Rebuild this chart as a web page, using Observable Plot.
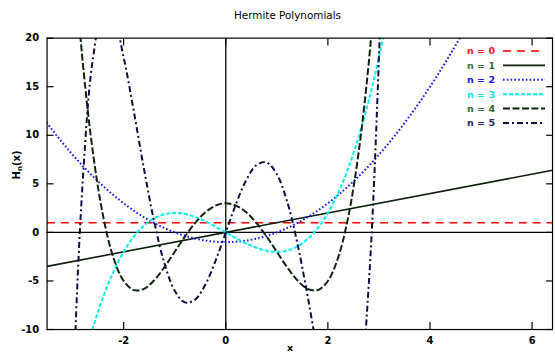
<!DOCTYPE html>
<html><head><meta charset="utf-8">
<script src="https://cdn.jsdelivr.net/npm/d3@7"></script>
<script src="https://cdn.jsdelivr.net/npm/@observablehq/plot@0.6"></script>
<style>
html,body{margin:0;padding:0;background:#fff;overflow:hidden;}
#wrap{position:relative;width:555px;height:356px;overflow:hidden;font-family:"DejaVu Sans",sans-serif;}
#chart{position:absolute;left:0;top:0;}
#title{position:absolute;left:0;width:575px;top:9px;text-align:center;font-size:10.4px;color:#000;white-space:nowrap;}
#ylab{position:absolute;left:17px;top:165px;transform:translate(-50%,-50%) rotate(-90deg);font-size:10px;font-weight:bold;white-space:nowrap;}
#ylab sub{font-size:7px;vertical-align:-2px;}
#xlab{position:absolute;left:270px;width:40px;top:342px;line-height:11px;text-align:center;font-size:9.5px;font-weight:bold;}
#legend{position:absolute;left:0;top:0;}
</style></head>
<body>
<div id="wrap">
  <div id="chart"></div>
  <div id="title"></div>
  <div id="ylab">H<sub>n</sub>(x)</div>
  <div id="xlab">x</div>
  <svg id="legend" width="555" height="140"></svg>
</div>
<script>
const title = "Hermite Polynomials";
const seriesNames = ["n = 0", "n = 1", "n = 2", "n = 3", "n = 4", "n = 5"];
const xTicks = [-2, 0, 2, 4, 6];
const yTicks = [-10, -5, 0, 5, 10, 15, 20];

// straight series (n = 0, n = 1) read at the two plot edges
const lineX = [-3.5, 6.4];
const h0 = [1, 1];
const h1 = [-3.5, 6.4];

// curved series read on a common x grid (null = outside the plotted window)
const xGrid = [-3.6, -3.4, -3.2, -3.0, -2.8, -2.6, -2.4, -2.2, -2.0, -1.8, -1.6, -1.4, -1.2, -1.0, -0.8, -0.6, -0.4, -0.2, 0,
  0.2, 0.4, 0.6, 0.8, 1.0, 1.2, 1.4, 1.6, 1.8, 2.0, 2.2, 2.4, 2.6, 2.8, 3.0, 3.2, 3.4, 3.6, 3.8, 4.0, 4.2, 4.4, 4.6, 4.8];
const h2 = [11.96, 10.56, 9.24, 8, 6.84, 5.76, 4.76, 3.84, 3, 2.24, 1.56, 0.96, 0.44, 0, -0.36, -0.64, -0.84, -0.96, -1,
  -0.96, -0.84, -0.64, -0.36, 0, 0.44, 0.96, 1.56, 2.24, 3, 3.84, 4.76, 5.76, 6.84, 8, 9.24, 10.56, 11.96, 13.44, 15, 16.64, 18.36, 20.16, 22.04];
const h3 = [null, null, null, null, -13.55, -9.78, -6.62, -4.05, -2, -0.43, 0.7, 1.46, 1.87, 2, 1.89, 1.58, 1.14, 0.59, 0,
  -0.59, -1.14, -1.58, -1.89, -2, -1.87, -1.46, -0.7, 0.43, 2, 4.05, 6.62, 9.78, 13.55, 18, 23.17, null, null, null, null, null, null, null, null];
const h4 = [null, null, null, 30, 17.43, 8.14, 1.62, -2.61, -5, -5.94, -5.81, -4.92, -3.57, -2, -0.43, 0.97, 2.07, 2.76, 3,
  2.76, 2.07, 0.97, -0.43, -2, -3.57, -4.92, -5.81, -5.94, -5, -2.61, 1.62, 8.14, 17.43, 30, null, null, null, null, null, null, null, null, null];
const h5 = [null, null, -55.86, -18, 5.42, 17.95, 22.61, 21.94, 18, 12.42, 6.47, 1.06, -3.21, -6, -7.21, -6.92, -5.37, -2.92, 0,
  2.92, 5.37, 6.92, 7.21, 6, 3.21, -1.06, -6.47, -12.42, -18, -21.94, -22.61, -17.95, -5.42, 18, 55.86, null, null, null, null, null, null, null, null];

// styles (kept apart from the data)
const styles = [
  {stroke: "#ff0000", text: "#ff1a1a", dash: "8,6", width: 1.6},
  {stroke: "#0b1f0b", text: "#3a6e3a", dash: null, width: 1.6},
  {stroke: "#1010ff", text: "#1a1ae6", dash: "1.6,2.2", width: 2},
  {stroke: "#00f0f0", text: "#00eaea", dash: "4,2", width: 2},
  {stroke: "#0a240a", text: "#2f6a2f", dash: "7,2.5", width: 2},
  {stroke: "#0a0a46", text: "#24246e", dash: "6,3,2,3", width: 2}
];

const rows = [];
[[lineX, h0], [lineX, h1], [xGrid, h2], [xGrid, h3], [xGrid, h4], [xGrid, h5]].forEach(([xs, ys], i) => {
  xs.forEach((x, j) => { if (ys[j] != null) rows.push({x, y: ys[j], n: seriesNames[i]}); });
});

const lineMarks = seriesNames.map((name, i) => Plot.line(rows.filter(r => r.n === name), {
  x: "x", y: "y", curve: "catmull-rom", clip: true,
  stroke: styles[i].stroke, strokeWidth: styles[i].width,
  strokeDasharray: styles[i].dash, strokeLinecap: "butt"
}));

const chart = Plot.plot({
  width: 560, height: 356,
  marginLeft: 47, marginRight: 3, marginTop: 38, marginBottom: 24,
  x: {domain: [-3.5, 6.4]},
  y: {domain: [-10, 20]},
  style: {fontFamily: "DejaVu Sans, sans-serif", fontSize: "10px", fontWeight: "bold", color: "#000", background: "transparent"},
  marks: [
    Plot.ruleX([0], {stroke: "#000", strokeWidth: 1.3}),
    Plot.ruleY([0], {stroke: "#000", strokeWidth: 1.3}),
    ...lineMarks,
    Plot.frame({stroke: "#000", strokeWidth: 1.2}),
    Plot.axisX(xTicks, {anchor: "bottom", tickSize: -7, tickPadding: 14, tickFormat: d => String(d), label: null, strokeWidth: 1.2}),
    Plot.axisX(xTicks, {anchor: "top", tickSize: -7, tickFormat: () => "", label: null, strokeWidth: 1.2}),
    Plot.axisY(yTicks, {anchor: "left", tickSize: -7, tickPadding: 15, tickFormat: d => String(d), label: null, strokeWidth: 1.2}),
    Plot.axisY(yTicks, {anchor: "right", tickSize: -7, tickFormat: () => "", label: null, strokeWidth: 1.2})
  ]
});
document.getElementById("chart").appendChild(chart);
document.getElementById("title").textContent = title;

// legend
const leg = d3.select("#legend");
seriesNames.forEach((name, i) => {
  const cy = 51 + i * 14.4;
  leg.append("text").attr("x", 495).attr("y", cy).attr("dy", "0.35em")
    .attr("text-anchor", "end").attr("font-family", "DejaVu Sans, sans-serif")
    .attr("font-size", 9.5).attr("font-weight", "bold").attr("fill", styles[i].text).text(name);
  leg.append("line").attr("x1", 503).attr("x2", 545).attr("y1", cy).attr("y2", cy)
    .attr("stroke", styles[i].stroke).attr("stroke-width", styles[i].width)
    .attr("stroke-dasharray", styles[i].dash);
});
</script>
</body></html>
